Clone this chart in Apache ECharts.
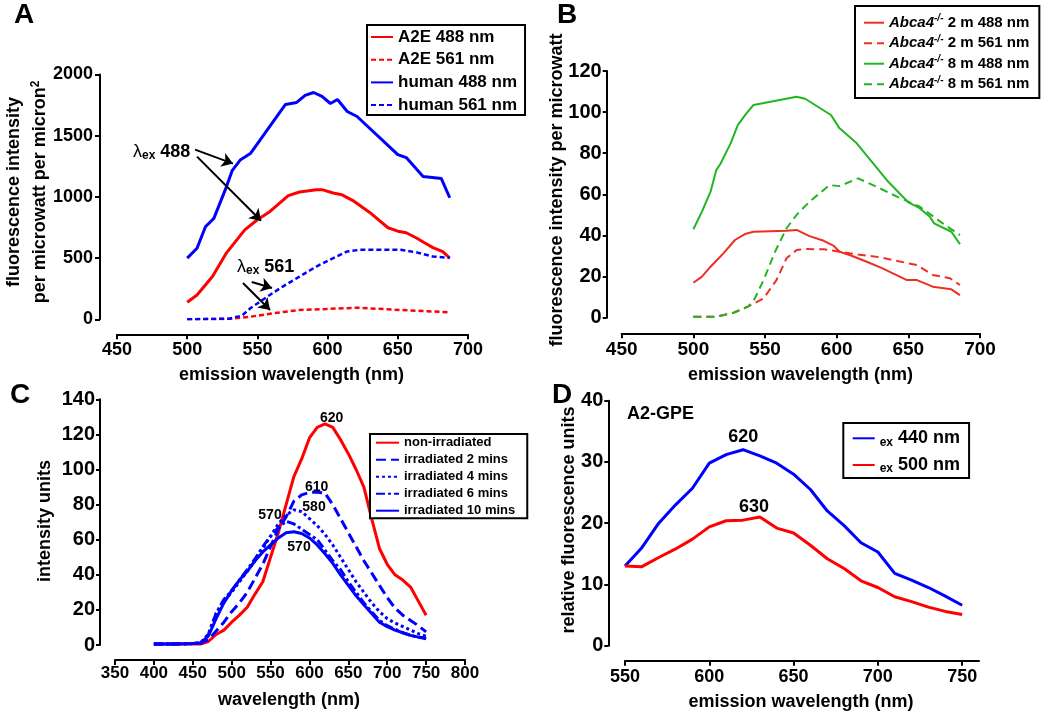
<!DOCTYPE html>
<html><head><meta charset="utf-8">
<script src="https://cdn.jsdelivr.net/npm/echarts@6/dist/echarts.min.js"></script>
<style>html,body{margin:0;padding:0;background:#fff}#c{width:1050px;height:712px}</style>
</head><body><div id="c"></div>
<script>
// ---------- Panel A data: [emission wavelength nm, intensity] ----------
const aA2E488 = [[500,139],[507,199],[518,349],[528,543],[541,731],[550,813],[559,881],[572,1010],[580,1040],[592,1059],[596,1059],[604,1032],[610,1018],[619,963],[630,873],[643,748],[650,720],[656,707],[663,666],[669,625],[675,586],[682,553],[687,500]];
const aA2E561 = [[500,0],[528,3],[545,21],[561,49],[580,76],[599,84],[621,95],[652,76],[687,57]];
const aHuman488 = [[500,500],[507,580],[513,756],[519,825],[528,1084],[532,1214],[538,1304],[545,1354],[570,1755],[578,1772],[584,1829],[590,1853],[596,1821],[602,1763],[607,1796],[614,1698],[621,1657],[650,1346],[656,1321],[668,1166],[681,1150],[687,993]];
const aHuman561 = [[500,0],[530,5],[539,30],[545,90],[557,185],[568,267],[580,349],[592,431],[604,500],[614,554],[623,568],[652,568],[664,545],[675,513],[687,502]];
// arrows of the annotations, in data coordinates [tail, head]
const aArrows = [[[505.6,1386],[532.6,1272]],[[507,1329],[552.6,805]],[[546,305],[560.4,256]],[[539.7,297],[559,76]]];

// ---------- Panel B data ----------
const bRed488 = [[500,17],[506,20],[512,24.8],[521,31.3],[529,37.8],[536,40.7],[542,41.8],[565,42.3],[572,42.7],[581,39.7],[591,37.4],[598,34.9],[602,32.1],[609,30.5],[621,27.2],[632,24],[649,18.3],[656,18.3],[667,15.1],[680,13.8],[686,11]];
const bRed561 = [[500,0.5],[516,0.5],[528,2.4],[538,5.4],[549,9.4],[558,18.3],[565,28.9],[572,32.9],[579,33.4],[591,33.3],[609,31.3],[630,29.4],[656,25.6],[667,20.8],[679,19.2],[686,15.9]];
const bGreen488 = [[500,43],[506,51.6],[512,61.3],[516,71.8],[519,75],[526,84.8],[531,93.7],[537,99.4],[542,103.5],[572,107.5],[578,106.5],[596,98.6],[602,92.1],[614,84.8],[636,66.1],[650,56.1],[657,53.7],[665,49.1],[668,45.9],[680,41.8],[686,35.8]];
const bGreen561 = [[500,0.5],[516,0.5],[528,2.4],[538,5.4],[542,8.1],[549,18.3],[557,32.1],[565,43.5],[572,50],[581,56.4],[595,64.5],[602,64],[615,67.8],[630,63],[642,58.9],[658,54],[674,45.9],[686,40.2]];

// ---------- Panel C data ----------
const cWavelength = [400,410,420,430,440,450,460,470,480,490,500,510,520,530,540,550,560,570,580,590,600,610,620,630,640,650,660,670,680,690,700,710,720,730,740,750];
const cNonIrr = [0.5,0.5,0.5,0.5,0.5,0.5,0.6,2,6,8.5,13,17,21.5,29,36,50,64,80,96,106,118,124,126,124,117,109,100,90,72,55,46,40,37,33,25,17];
const cIrr2 = [0.5,0.5,0.5,0.6,0.7,0.8,1,3,8,13,19,24,30,38,46,56,66,73,82,85.5,87,87,86.5,80,72,64,56,48,41,34,27,21,17,14,11,7.5];
const cIrr4 = [0.5,0.5,0.5,0.6,0.7,0.8,1.2,6,18,25,30,36,42,48,55,62,69,74,77,76,72,68,63,57,50,43,36,30,24,19,15,12.5,10.5,8.5,6.5,5];
const cIrr6 = [0.5,0.5,0.5,0.6,0.7,0.8,1.2,6,18,26,31,37,43,49,56,62,67,70.5,69,66,63,60,54,48,43,36,30,24,19,14,11,9,7,5.5,4.5,3.8];
const cIrr10 = [0.5,0.5,0.5,0.6,0.7,0.8,1.2,5,15,24,31,37,42,48,53,57,61,64,64.5,63.5,61,57,52,46.5,40,34,28,23,18,13,10.5,8.5,7,5.5,4.5,3.5];

// ---------- Panel D data ----------
const dWavelength = [550,560,570,580,590,600,610,620,630,640,650,660,670,680,690,700,710,720,730,740,750];
const dEx440 = [13,16,20,23,25.7,29.8,31.2,32,31,29.8,28,25.5,22,19.6,16.8,15.3,11.8,10.7,9.5,8.1,6.6];
const dEx500 = [13,12.9,14.4,15.8,17.4,19.4,20.4,20.5,21,19.2,18.4,16.4,14.2,12.6,10.6,9.5,8,7.2,6.3,5.6,5.1];
const dTicks = [550,600,650,700,750];

const FONT = '"Liberation Sans", Arial, Helvetica, sans-serif';
const RED = '#ff0000', BLUE = '#0000ff', BRED = '#ee2e24', GREEN = '#22b422';

function zip(xs, ys){ return xs.map((x,i)=>[x, ys[i]]); }
function line(name, data, gi, color, width, dash){
  return {type:'line', name, data, xAxisIndex:gi, yAxisIndex:gi, symbol:'none', smooth:false,
    lineStyle:{color, width, type: dash || 'solid'}, itemStyle:{color}, emphasis:{disabled:true}};
}
function axBase(gi, min, max, interval, fs, margin, offset, tickLen){
  return {type:'value', gridIndex:gi, min, max, interval, offset,
    axisLine:{show:true, onZero:false, lineStyle:{color:'#000', width:2}},
    axisTick:{show:true, length:tickLen, lineStyle:{color:'#000', width:2}},
    axisLabel:{show:true, color:'#000', fontSize:fs, fontWeight:'bold', fontFamily:FONT, margin, formatter: v => String(v)},
    splitLine:{show:false}};
}

const dX = axBase(3, 550, 760, 50, 18, 7, 15, 5);
dX.axisLabel.customValues = dTicks; dX.axisTick.customValues = dTicks;

const series = [
  line('A2E 488 nm', aA2E488, 0, RED, 3),
  line('A2E 561 nm', aA2E561, 0, RED, 2.5, [5,3]),
  Object.assign(line('human 488 nm', aHuman488, 0, BLUE, 3), {
    markLine:{silent:true, symbol:['none','arrow'], symbolSize:11, animation:false,
      lineStyle:{color:'#000', width:2, type:'solid'}, label:{show:false}, emphasis:{disabled:true},
      data: aArrows.map(a => [{coord:a[0]},{coord:a[1]}])}
  }),
  line('human 561 nm', aHuman561, 0, BLUE, 2.5, [5,3]),
  line('Abca4-/- 2 m 488 nm', bRed488, 1, BRED, 2),
  line('Abca4-/- 2 m 561 nm', bRed561, 1, BRED, 2, [8,5]),
  line('Abca4-/- 8 m 488 nm', bGreen488, 1, GREEN, 2),
  line('Abca4-/- 8 m 561 nm', bGreen561, 1, GREEN, 2, [8,5]),
  line('non-irradiated', zip(cWavelength, cNonIrr), 2, RED, 3),
  line('irradiated 2 mins', zip(cWavelength, cIrr2), 2, BLUE, 3, [10,5]),
  line('irradiated 4 mins', zip(cWavelength, cIrr4), 2, BLUE, 3, [3,3]),
  line('irradiated 6 mins', zip(cWavelength, cIrr6), 2, BLUE, 3, [9,3,3,3]),
  line('irradiated 10 mins', zip(cWavelength, cIrr10), 2, BLUE, 3),
  line('ex 440 nm', zip(dWavelength, dEx440), 3, BLUE, 3),
  line('ex 500 nm', zip(dWavelength, dEx500), 3, RED, 3)
];

function txt(x, y, text, size, opts){
  return Object.assign({type:'text', x, y, silent:true,
    style:{text, fill:'#000', font:'bold '+size+'px '+FONT, align:'center', verticalAlign:'middle'}}, opts||{});
}
function lam(x, y, num){
  return {type:'text', x, y, silent:true, style:{text:'{l|λ}{e|ex}{n| '+num+'}', align:'left', verticalAlign:'middle', fill:'#000',
    rich:{l:{fontSize:18, fontFamily:FONT, lineHeight:20}, e:{fontSize:12, fontWeight:'bold', fontFamily:FONT, verticalAlign:'bottom', lineHeight:13},
      n:{fontSize:18, fontWeight:'bold', fontFamily:FONT, lineHeight:20}}}};
}

const graphic = [
  txt(24, 15, 'A', 28), txt(567, 15, 'B', 28), txt(20, 395, 'C', 28), txt(562, 395, 'D', 28),
  txt(14, 192, 'fluorescence intensity', 18, {rotation:Math.PI/2}),
  {type:'text', x:40, y:192, rotation:Math.PI/2, silent:true, style:{text:'{a|per microwatt per micron}{b|2}', align:'center', verticalAlign:'middle', fill:'#000',
    rich:{a:{fontSize:18, fontWeight:'bold', fontFamily:FONT, lineHeight:20}, b:{fontSize:12, fontWeight:'bold', fontFamily:FONT, verticalAlign:'top', lineHeight:12}}}},
  txt(291.5, 375, 'emission wavelength (nm)', 18),
  txt(557, 190, 'fluorescence intensity per microwatt', 18, {rotation:Math.PI/2}),
  txt(800.5, 375, 'emission wavelength (nm)', 18),
  txt(45, 521, 'intensity units', 18, {rotation:Math.PI/2}),
  txt(289, 700, 'wavelength (nm)', 18),
  txt(569, 520, 'relative fluorescence units', 18, {rotation:Math.PI/2}),
  txt(801, 702, 'emission wavelength (nm)', 18),
  lam(133, 152, '488'), lam(237, 267, '561'),
  txt(331.7, 418, '620', 14), txt(316.7, 487, '610', 14), txt(314, 507, '580', 14),
  txt(270, 515, '570', 14), txt(299, 547, '570', 14),
  txt(627, 414, 'A2-GPE', 18, {style:{text:'A2-GPE', fill:'#000', font:'bold 18px '+FONT, align:'left', verticalAlign:'middle'}}),
  txt(743.3, 437.3, '620', 18), txt(754, 506.7, '630', 18)
];

const legBase = {orient:'vertical', borderColor:'#000', borderWidth:2, selectedMode:false, backgroundColor:'#fff',
  itemStyle:{color:'rgba(0,0,0,0)', borderWidth:0, borderColor:'rgba(0,0,0,0)', opacity:0}};
const option = {
  animation:false,
  backgroundColor:'#fff',
  grid:[
    {left:117, top:74.5, width:351, height:244.8, outerBoundsMode:'none'},
    {left:621.7, top:71, width:358.3, height:246.7, outerBoundsMode:'none'},
    {left:115, top:399.3, width:350, height:245.7, outerBoundsMode:'none'},
    {left:625, top:400.7, width:354, height:245, outerBoundsMode:'none'}
  ],
  xAxis:[
    axBase(0, 450, 700, 50, 18, 7, 15, 5),
    axBase(1, 450, 700, 50, 19, 7, 15.6, 5),
    axBase(2, 350, 800, 50, 17, 5, 15, 5),
    dX
  ],
  yAxis:[
    axBase(0, 0, 2000, 500, 18, 7, 17, 5),
    axBase(1, 0, 120, 20, 20, 5, 15, 4),
    axBase(2, 0, 140, 20, 20, 5, 15, 4),
    axBase(3, 0, 40, 10, 20, 5, 16.7, 4)
  ],
  legend:[
    Object.assign({}, legBase, {data:['A2E 488 nm','A2E 561 nm','human 488 nm','human 561 nm'], left:367, top:25,
      padding:[2,8,0,3], itemGap:2.7, itemWidth:22, itemHeight:14,
      textStyle:{fontSize:17, fontWeight:'bold', color:'#000', fontFamily:FONT, lineHeight:20}}),
    Object.assign({}, legBase, {data:['Abca4-/- 2 m 488 nm','Abca4-/- 2 m 561 nm','Abca4-/- 8 m 488 nm','Abca4-/- 8 m 561 nm'], left:855, top:6,
      padding:[7.7,10,4.7,8], itemGap:2.5, itemWidth:20, itemHeight:12,
      formatter: n => '{i|Abca4}{s|-/-}{t|' + n.slice(8) + '}',
      textStyle:{fontSize:15, fontWeight:'bold', color:'#000', fontFamily:FONT, lineHeight:18,
        rich:{i:{fontSize:15, fontWeight:'bold', fontStyle:'italic', fontFamily:FONT, lineHeight:18},
              s:{fontSize:10, fontWeight:'bold', fontStyle:'italic', fontFamily:FONT, verticalAlign:'top', lineHeight:10},
              t:{fontSize:15, fontWeight:'bold', fontFamily:FONT, lineHeight:18}}}}),
    Object.assign({}, legBase, {data:['non-irradiated','irradiated 2 mins','irradiated 4 mins','irradiated 6 mins','irradiated 10 mins'], left:370, top:434,
      padding:[1.2,12,0,5], itemGap:2, itemWidth:23, itemHeight:12,
      textStyle:{fontSize:13, fontWeight:'bold', color:'#000', fontFamily:FONT, lineHeight:15}}),
    Object.assign({}, legBase, {data:['ex 440 nm','ex 500 nm'], left:843.3, top:423,
      padding:[5.3,9,3,8.4], itemGap:6.7, itemWidth:22, itemHeight:14,
      formatter: n => '{e|ex}{t|' + n.slice(2) + '}',
      textStyle:{fontSize:18, fontWeight:'bold', color:'#000', fontFamily:FONT, lineHeight:20,
        rich:{e:{fontSize:12, fontWeight:'bold', fontFamily:FONT, verticalAlign:'bottom', lineHeight:12},
              t:{fontSize:18, fontWeight:'bold', fontFamily:FONT, lineHeight:20}}}})
  ],
  series,
  graphic
};
const chart = echarts.init(document.getElementById('c'), null, {renderer:'canvas'});
chart.setOption(option);
</script></body></html>
